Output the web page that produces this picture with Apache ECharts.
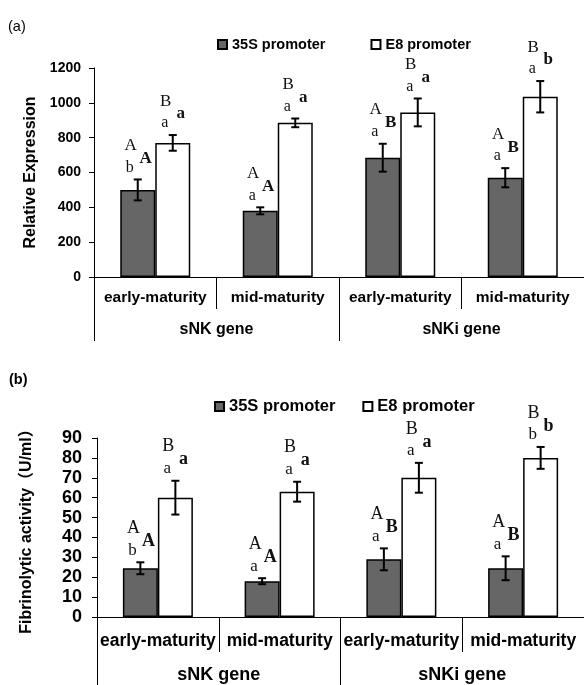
<!DOCTYPE html>
<html>
<head>
<meta charset="utf-8">
<script src="https://cdn.jsdelivr.net/npm/echarts@6/dist/echarts.min.js"></script>
<style>
html,body{margin:0;padding:0;background:#fff;}
#chart{width:584px;height:685px;}
</style>
</head>
<body>
<div id="chart"></div>
<script>
// ---------- data ----------
const categories = ['early-maturity', 'mid-maturity', 'early-maturity', 'mid-maturity'];
const genes = ['sNK gene', 'sNKi gene'];
const seriesNames = ['35S promoter', 'E8 promoter'];

// (a) Relative Expression
const expr35S = [500, 380, 685, 570];
const expr35SErr = [60, 20, 80, 55];
const exprE8 = [770, 885, 945, 1035];
const exprE8Err = [45, 25, 80, 90];
const exprUpper35S = ['A', 'A', 'A', 'A'];
const exprLower35S = ['b', 'a', 'a', 'a'];
const exprBold35S = ['A', 'A', 'B', 'B'];
const exprUpperE8 = ['B', 'B', 'B', 'B'];
const exprLowerE8 = ['a', 'a', 'a', 'a'];
const exprBoldE8 = ['a', 'a', 'a', 'b'];

// (b) Fibrinolytic activity
const act35S = [24.5, 18, 29, 24.5];
const act35SErr = [3, 1.5, 5.5, 6];
const actE8 = [60, 63, 70, 80];
const actE8Err = [8.5, 5, 7.5, 5.5];
const actUpper35S = ['A', 'A', 'A', 'A'];
const actLower35S = ['b', 'a', 'a', 'a'];
const actBold35S = ['A', 'A', 'B', 'B'];
const actUpperE8 = ['B', 'B', 'B', 'B'];
const actLowerE8 = ['a', 'a', 'a', 'b'];
const actBoldE8 = ['a', 'a', 'a', 'b'];

// ---------- styling ----------
const SANS = '"Liberation Sans", Arial, Helvetica, sans-serif';
const SERIF = '"Liberation Serif", "Times New Roman", serif';
const CJK = '"Liberation Sans", Arial, "Noto Sans CJK SC", sans-serif';
const BAR_W = 35;
const DARK = '#666666';

function barSeries(name, data, gridIdx, color) {
  return {
    name: name, type: 'bar', xAxisIndex: gridIdx * 2, yAxisIndex: gridIdx,
    data: data, barWidth: BAR_W, barGap: '0%',
    itemStyle: { color: color, borderColor: '#000', borderWidth: 1.5 },
    silent: true, animation: false
  };
}

function annotSeries(gridIdx, values, errs, upper, lower, bold, side, upFont) {
  return {
    type: 'custom', xAxisIndex: gridIdx * 2, yAxisIndex: gridIdx,
    data: values.map((v, i) => [i, v, errs[i]]),
    encode: { x: 0, y: 1 },
    z: 5, silent: true, animation: false, clip: false,
    renderItem: function (params, api) {
      const i = api.value(0), v = api.value(1), e = api.value(2);
      const pTop = api.coord([i, v + e]);
      const pBot = api.coord([i, v - e]);
      const x = pTop[0] + side * BAR_W / 2;
      const yT = pTop[1], yB = pBot[1];
      const k = params.dataIndex;
      const ls = { stroke: '#000', lineWidth: 2 };
      const lowY = yT - 12;
      return {
        type: 'group',
        children: [
          { type: 'line', shape: { x1: x, y1: yT, x2: x, y2: yB }, style: ls },
          { type: 'line', shape: { x1: x - 4, y1: yT, x2: x + 4, y2: yT }, style: ls },
          { type: 'line', shape: { x1: x - 4, y1: yB, x2: x + 4, y2: yB }, style: ls },
          { type: 'text', x: x - 8, y: lowY,
            style: { text: lower[k], font: 'normal ' + (upFont - 1) + 'px ' + SERIF, fill: '#111', align: 'center', verticalAlign: 'middle' } },
          { type: 'text', x: x - 7, y: lowY - 22,
            style: { text: upper[k], font: 'normal ' + upFont + 'px ' + SERIF, fill: '#111', align: 'center', verticalAlign: 'middle' } },
          { type: 'text', x: x + 8, y: lowY - 9,
            style: { text: bold[k], font: 'bold ' + upFont + 'px ' + SERIF, fill: '#111', align: 'center', verticalAlign: 'middle' } }
        ]
      };
    }
  };
}

function catAxis(gridIdx, fontSize, margin, tickLen) {
  return {
    gridIndex: gridIdx, type: 'category', data: categories, position: 'bottom',
    axisLine: { show: true, lineStyle: { color: '#000', width: 1 } },
    axisTick: { show: true, interval: 0, length: tickLen, lineStyle: { color: '#000', width: 1 } },
    axisLabel: { interval: 0, margin: margin, color: '#000', fontSize: fontSize, fontWeight: 'bold', fontFamily: SANS },
    splitLine: { show: false }
  };
}
function geneAxis(gridIdx, fontSize, margin, tickLen) {
  return {
    gridIndex: gridIdx, type: 'category', data: genes, position: 'bottom',
    axisLine: { show: false },
    axisTick: { show: true, interval: 0, length: tickLen, lineStyle: { color: '#000', width: 1 } },
    axisLabel: { interval: 0, margin: margin, color: '#000', fontSize: fontSize, fontWeight: 'bold', fontFamily: SANS },
    splitLine: { show: false }
  };
}
function valAxis(gridIdx, max, interval, fontSize, margin, name, nameGap, nameSize, fam) {
  return {
    gridIndex: gridIdx, type: 'value', min: 0, max: max, interval: interval,
    axisLine: { show: true, lineStyle: { color: '#000', width: 1 } },
    axisTick: { show: true, length: 5, lineStyle: { color: '#000', width: 1 } },
    axisLabel: { margin: margin, color: '#000', fontSize: fontSize, fontWeight: 'bold', fontFamily: SANS,
      formatter: function (v) { return String(v); } },
    splitLine: { show: false },
    name: name, nameLocation: 'middle', nameRotate: 90, nameGap: nameGap,
    nameTextStyle: { color: '#000', fontSize: nameSize, fontWeight: 'bold', fontFamily: fam }
  };
}

const chart = echarts.init(document.getElementById('chart'), null, { renderer: 'canvas' });
chart.setOption({
  backgroundColor: '#fff',
  animation: false,
  title: [
    { text: '(a)', left: 8, top: 19, padding: 0, textStyle: { fontSize: 14.5, fontWeight: 'normal', color: '#000', fontFamily: SANS } },
    { text: '(b)', left: 9, top: 372, padding: 0, textStyle: { fontSize: 14.5, fontWeight: 'bold', color: '#000', fontFamily: SANS } }
  ],
  legend: [
    { data: seriesNames, left: 217, top: 37, padding: 0, itemWidth: 9, itemHeight: 9, itemGap: 45, icon: 'rect',
      selectedMode: false, textStyle: { fontSize: 14.5, fontWeight: 'bold', color: '#000', fontFamily: SANS } },
    { data: seriesNames, left: 214, top: 398, padding: 0, itemWidth: 9, itemHeight: 9, itemGap: 27, icon: 'rect',
      selectedMode: false, textStyle: { fontSize: 16.5, fontWeight: 'bold', color: '#000', fontFamily: SANS } }
  ],
  grid: [
    { left: 94, top: 68, width: 490, height: 209, containLabel: false },
    { left: 97, top: 438, width: 487, height: 179, containLabel: false }
  ],
  xAxis: [
    catAxis(0, 15.5, 13, 32),
    geneAxis(0, 16, 45, 64),
    catAxis(1, 17.5, 15, 35),
    geneAxis(1, 18, 49, 70)
  ],
  yAxis: [
    valAxis(0, 1200, 200, 14, 13, 'Relative Expression', 45, 16, SANS),
    valAxis(1, 90, 10, 18, 15, 'Fibrinolytic activity（U/ml）', 62, 16, CJK)
  ],
  series: [
    barSeries(seriesNames[0], expr35S, 0, DARK),
    barSeries(seriesNames[1], exprE8, 0, '#ffffff'),
    annotSeries(0, expr35S, expr35SErr, exprUpper35S, exprLower35S, exprBold35S, -1, 17),
    annotSeries(0, exprE8, exprE8Err, exprUpperE8, exprLowerE8, exprBoldE8, 1, 17),
    barSeries(seriesNames[0], act35S, 1, DARK),
    barSeries(seriesNames[1], actE8, 1, '#ffffff'),
    annotSeries(1, act35S, act35SErr, actUpper35S, actLower35S, actBold35S, -1, 18),
    annotSeries(1, actE8, actE8Err, actUpperE8, actLowerE8, actBoldE8, 1, 18)
  ]
});
</script>
</body>
</html>
